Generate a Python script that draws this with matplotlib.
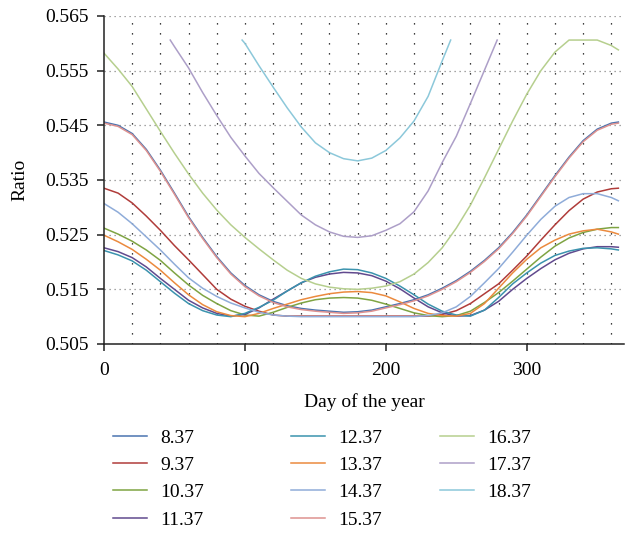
import numpy as np
import matplotlib
matplotlib.use("Agg")
import matplotlib.pyplot as plt

plt.rcParams['font.family'] = ['Liberation Serif', 'DejaVu Serif']

# day grid shared by most series
days = [0, 10, 20, 30, 40, 50, 60, 70, 80, 90, 100, 110, 120, 130, 140, 150, 160, 170, 180,
        190, 200, 210, 220, 230, 240, 250, 260, 270, 280, 290, 300, 310, 320, 330, 340, 350, 360, 365]

r_8_37 = [0.5456, 0.5450, 0.5435, 0.5406, 0.5368, 0.5326, 0.5283, 0.5245, 0.5210, 0.5180, 0.5157,
          0.5140, 0.5128, 0.5120, 0.5115, 0.5112, 0.5110, 0.5108, 0.5109, 0.5112, 0.5118, 0.5124,
          0.5131, 0.5140, 0.5152, 0.5166, 0.5183, 0.5203, 0.5226, 0.5254, 0.5286, 0.5322, 0.5358,
          0.5392, 0.5422, 0.5443, 0.5454, 0.5456]
r_9_37 = [0.5335, 0.5326, 0.5308, 0.5284, 0.5258, 0.5230, 0.5204, 0.5177, 0.5150, 0.5132, 0.5119,
          0.5110, 0.5103, 0.5101, 0.5101, 0.5101, 0.5101, 0.5101, 0.5101, 0.5101, 0.5101, 0.5101,
          0.5101, 0.5101, 0.5104, 0.5111, 0.5124, 0.5142, 0.5160, 0.5185, 0.5211, 0.5240, 0.5268,
          0.5294, 0.5315, 0.5328, 0.5334, 0.5335]
r_10_37 = [0.5262, 0.5251, 0.5238, 0.5222, 0.5203, 0.5180, 0.5158, 0.5139, 0.5124, 0.5111, 0.5103,
           0.5101, 0.5108, 0.5117, 0.5125, 0.5131, 0.5134, 0.5135, 0.5134, 0.5130, 0.5123, 0.5115,
           0.5107, 0.5102, 0.5100, 0.5102, 0.5110, 0.5126, 0.5144, 0.5165, 0.5187, 0.5209, 0.5229,
           0.5244, 0.5254, 0.5260, 0.5263, 0.5263]
r_11_37 = [0.5226, 0.5219, 0.5208, 0.5191, 0.5170, 0.5150, 0.5130, 0.5116, 0.5106, 0.5101, 0.5104,
           0.5116, 0.5132, 0.5147, 0.5162, 0.5172, 0.5178, 0.5181, 0.5180, 0.5175, 0.5165, 0.5151,
           0.5134, 0.5118, 0.5107, 0.5101, 0.5102, 0.5112, 0.5128, 0.5150, 0.5170, 0.5188, 0.5204,
           0.5216, 0.5224, 0.5228, 0.5228, 0.5227]
r_12_37 = [0.5221, 0.5213, 0.5202, 0.5185, 0.5164, 0.5143, 0.5124, 0.5111, 0.5103, 0.5100, 0.5106,
           0.5117, 0.5130, 0.5147, 0.5162, 0.5174, 0.5182, 0.5187, 0.5186, 0.5180, 0.5170, 0.5156,
           0.5140, 0.5123, 0.5110, 0.5103, 0.5101, 0.5112, 0.5135, 0.5160, 0.5180, 0.5198, 0.5212,
           0.5220, 0.5225, 0.5226, 0.5224, 0.5222]
r_13_37 = [0.5249, 0.5237, 0.5223, 0.5205, 0.5185, 0.5162, 0.5140, 0.5122, 0.5109, 0.5102, 0.5100,
           0.5106, 0.5115, 0.5123, 0.5131, 0.5137, 0.5142, 0.5145, 0.5146, 0.5144, 0.5138, 0.5127,
           0.5115, 0.5106, 0.5102, 0.5101, 0.5106, 0.5124, 0.5152, 0.5180, 0.5205, 0.5226, 0.5240,
           0.5251, 0.5257, 0.5260, 0.5255, 0.5251]
r_14_37 = [0.5307, 0.5291, 0.5270, 0.5246, 0.5222, 0.5196, 0.5171, 0.5152, 0.5137, 0.5125, 0.5116,
           0.5108, 0.5103, 0.5101, 0.5100, 0.5100, 0.5100, 0.5100, 0.5100, 0.5100, 0.5100, 0.5100,
           0.5100, 0.5102, 0.5107, 0.5118, 0.5137, 0.5162, 0.5188, 0.5218, 0.5249, 0.5278, 0.5302,
           0.5318, 0.5325, 0.5325, 0.5318, 0.5312]
r_15_37 = [0.5454, 0.5448, 0.5433, 0.5404, 0.5366, 0.5324, 0.5281, 0.5243, 0.5208, 0.5178, 0.5155,
           0.5138, 0.5126, 0.5118, 0.5113, 0.5110, 0.5108, 0.5106, 0.5107, 0.5110, 0.5116, 0.5122,
           0.5129, 0.5138, 0.5150, 0.5164, 0.5181, 0.5201, 0.5224, 0.5252, 0.5284, 0.5320, 0.5356,
           0.5390, 0.5420, 0.5441, 0.5452, 0.5454]
r_16_37 = [0.5582, 0.5553, 0.5521, 0.5480, 0.5439, 0.5399, 0.5361, 0.5326, 0.5295, 0.5268, 0.5245,
           0.5224, 0.5204, 0.5185, 0.5170, 0.5160, 0.5154, 0.5151, 0.5150, 0.5152, 0.5156, 0.5164,
           0.5178, 0.5199, 0.5226, 0.5262, 0.5304, 0.5354, 0.5406, 0.5458, 0.5507, 0.5550, 0.5584,
           0.5606, 0.5606, 0.5606, 0.5596, 0.5588]

# the two highest series only cover part of the year
days_17_37 = [47, 50, 60, 70, 80, 90, 100, 110, 120, 130, 140, 150, 160, 170, 180,
              190, 200, 210, 220, 230, 240, 250, 260, 270, 279]
r_17_37 = [0.5606, 0.5594, 0.5555, 0.5510, 0.5468, 0.5428, 0.5394, 0.5362, 0.5336, 0.5311, 0.5286,
           0.5268, 0.5255, 0.5247, 0.5245, 0.5248, 0.5258, 0.5270, 0.5292, 0.5330, 0.5382, 0.5430,
           0.5490, 0.5551, 0.5606]
days_18_37 = [98, 100, 110, 120, 130, 140, 150, 160, 170, 180, 190, 200, 210, 220, 230, 240, 246]
r_18_37 = [0.5606, 0.5600, 0.5559, 0.5520, 0.5482, 0.5447, 0.5418, 0.5400, 0.5389, 0.5385, 0.5390,
           0.5404, 0.5427, 0.5458, 0.5503, 0.5568, 0.5606]

labels = ['8.37', '9.37', '10.37', '11.37', '12.37', '13.37', '14.37', '15.37', '16.37', '17.37', '18.37']
colors = ['#4A74B0', '#B03C3A', '#7FA443', '#614A8E', '#3B93AE', '#EB8A3E',
          '#8FACD9', '#DE9290', '#B6CF8E', '#AD9FC8', '#8CC8DA']
xs = [days] * 9 + [days_17_37, days_18_37]
ys = [r_8_37, r_9_37, r_10_37, r_11_37, r_12_37, r_13_37, r_14_37, r_15_37, r_16_37, r_17_37, r_18_37]

fig = plt.figure(figsize=(6.25, 5.34), dpi=100)
ax = fig.add_axes([104 / 625, 1 - 344 / 534, 520 / 625, 328 / 534])

# dotted grid like the original
for d in range(20, 369, 20):
    ax.axvline(d, color='black', lw=0.9, linestyle=(0, (1, 7)), zorder=0)
for v in [0.515, 0.525, 0.535, 0.545, 0.555, 0.565]:
    ax.axhline(v, color='#888888', lw=0.9, linestyle=(0, (1, 3)), zorder=0)

handles = []
for x, y, c, lab in zip(xs, ys, colors, labels):
    h, = ax.plot(x, y, color=c, lw=1.1, label=lab)
    handles.append(h)

ax.set_xlim(0, 369)
ax.set_ylim(0.505, 0.565)
ax.set_xticks([0, 100, 200, 300])
ax.set_yticks([0.505, 0.515, 0.525, 0.535, 0.545, 0.555, 0.565])
ax.set_yticklabels(['0.505', '0.515', '0.525', '0.535', '0.545', '0.555', '0.565'])
ax.spines['top'].set_visible(False)
ax.spines['right'].set_visible(False)
for s in ['left', 'bottom']:
    ax.spines[s].set_color('#222222')
    ax.spines[s].set_linewidth(1.1)
ax.tick_params(direction='out', length=5, width=1.1, color='#222222', labelsize=14)
ax.tick_params(axis='x', pad=8)
ax.tick_params(axis='y', pad=6)

ax.set_xlabel('Day of the year', fontsize=14, labelpad=10)
ax.set_ylabel('Ratio', fontsize=14, labelpad=12)

# three legend columns placed one by one (the gaps between them are uneven)
col_x = [113, 291, 440]
groups = [handles[0:4], handles[4:8], handles[8:11]]
for cx, grp in zip(col_x, groups):
    leg = fig.legend(handles=grp, frameon=False, fontsize=14,
                     loc='upper left', bbox_to_anchor=(cx / 625, 1 - 429 / 534),
                     handlelength=1.75, handletextpad=0.7,
                     labelspacing=0.5, borderpad=0, borderaxespad=0)

fig.savefig('out.png', dpi=100)
